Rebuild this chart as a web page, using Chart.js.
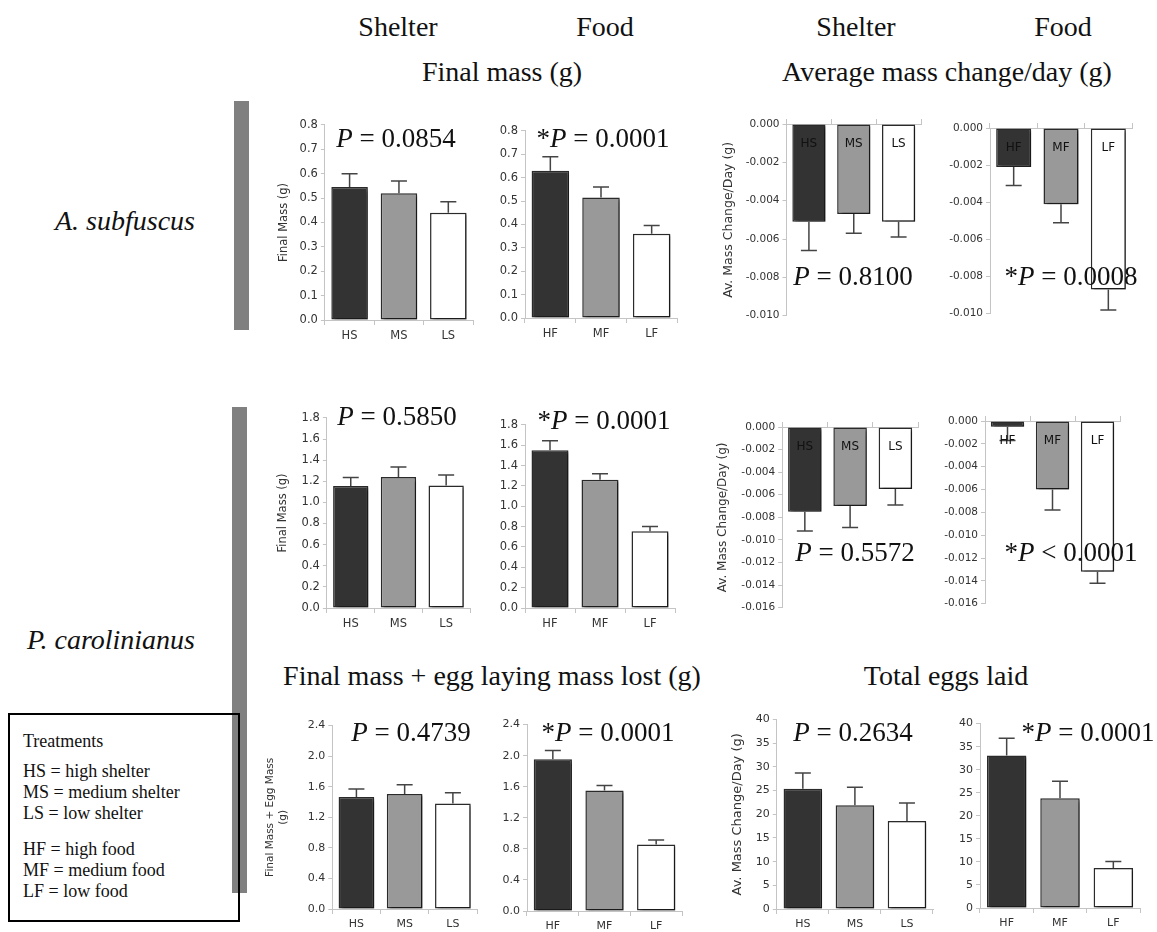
<!DOCTYPE html>
<html>
<head>
<meta charset="utf-8">
<script src="https://cdn.jsdelivr.net/npm/chart.js@4.4.1/dist/chart.umd.min.js"></script>
<style>
  body { margin: 0; background: #fff; width: 1157px; height: 932px; position: relative; overflow: hidden;
         font-family: "Liberation Serif", "Times New Roman", serif; color: #111; }
  .t { position: absolute; transform: translate(-50%, -50%); white-space: nowrap; }
  .hd { font-size: 28px; }
  .sp { font-size: 28px; font-style: italic; }
  .pv { font-size: 27px; }
  .bar { position: absolute; background: #808080; }
  .legend { position: absolute; left: 8px; top: 713px; width: 228px; height: 205px; border: 2px solid #000;
            font-size: 18px; line-height: 21px; }
  canvas { position: absolute; }
</style>
</head>
<body>

<div class="t hd" style="left:398px;top:27px">Shelter</div>
<div class="t hd" style="left:605px;top:27px">Food</div>
<div class="t hd" style="left:856px;top:27px">Shelter</div>
<div class="t hd" style="left:1063px;top:27px">Food</div>
<div class="t hd" style="left:502px;top:72px">Final mass (g)</div>
<div class="t hd" style="left:947px;top:72px">Average mass change/day (g)</div>
<div class="t hd" style="left:492px;top:676px">Final mass + egg laying mass lost (g)</div>
<div class="t hd" style="left:946px;top:676px">Total eggs laid</div>

<div class="t sp" style="left:125px;top:221px">A. subfuscus</div>
<div class="t sp" style="left:111px;top:640px">P. carolinianus</div>

<div class="bar" style="left:234px;top:101px;width:15px;height:229px"></div>
<div class="bar" style="left:232px;top:407px;width:15px;height:486px"></div>

<div class="legend">
  <div style="position:absolute;left:13px;top:16px">Treatments</div>
  <div style="position:absolute;left:13px;top:46px">HS = high shelter<br>MS = medium shelter<br>LS = low shelter</div>
  <div style="position:absolute;left:13px;top:124px">HF = high food<br>MF = medium food<br>LF = low food</div>
</div>

<div id="charts"></div>

<script>
// categories
const shelterLabels = ['HS', 'MS', 'LS'];
const foodLabels = ['HF', 'MF', 'LF'];

// A. subfuscus - final mass (g)
const aMassShelter = [0.545, 0.52, 0.44];
const aMassShelterSE = [0.055, 0.05, 0.045];
const aMassFood = [0.63, 0.515, 0.36];
const aMassFoodSE = [0.06, 0.045, 0.035];

// A. subfuscus - average mass change/day (g)
const aChangeShelter = [-0.0051, -0.0047, -0.0051];
const aChangeShelterSE = [0.0015, 0.0010, 0.0008];
const aChangeFood = [-0.0021, -0.0041, -0.0087];
const aChangeFoodSE = [0.0010, 0.0010, 0.0011];

// P. carolinianus - final mass (g)
const pMassShelter = [1.155, 1.24, 1.16];
const pMassShelterSE = [0.08, 0.095, 0.10];
const pMassFood = [1.55, 1.26, 0.755];
const pMassFoodSE = [0.095, 0.06, 0.045];

// P. carolinianus - average mass change/day (g)
const pChangeShelter = [-0.0075, -0.0070, -0.0055];
const pChangeShelterSE = [0.0017, 0.0019, 0.0014];
const pChangeFood = [-0.0005, -0.0060, -0.0132];
const pChangeFoodSE = [0.0012, 0.0018, 0.0010];

// P. carolinianus - final mass + egg mass (g)
const pEggMassShelter = [1.465, 1.505, 1.38];
const pEggMassShelterSE = [0.105, 0.12, 0.14];
const pEggMassFood = [1.955, 1.55, 0.855];
const pEggMassFoodSE = [0.11, 0.065, 0.06];

// P. carolinianus - total eggs laid
const pEggsShelter = [25.4, 21.9, 18.6];
const pEggsShelterSE = [3.3, 3.8, 3.8];
const pEggsFood = [33.1, 23.8, 8.7];
const pEggsFoodSE = [3.7, 3.7, 1.4];

// P values, one per panel
const pStars = ['', '*', '', '*', '', '*', '', '*', '', '*', '', '*'];
const pSigns = ['=', '=', '=', '=', '=', '=', '=', '<', '=', '=', '=', '='];
const pNumbers = ['0.0854', '0.0001', '0.8100', '0.0008', '0.5850', '0.0001',
                  '0.5572', '0.0001', '0.4739', '0.0001', '0.2634', '0.0001'];

const barColors = ['#333333', '#999999', '#ffffff'];
const axisGrey = '#c4c4c4';

// where each panel sits on the page
const panels = [
  { labels: shelterLabels, data: aMassShelter, se: aMassShelterSE, min: 0, max: 0.8, step: 0.1, dec: 1, fs: 11.5,
    title: 'Final Mass (g)', tSize: 11.5, ax: 325, top: 123, bottom: 320, right: 473, titleX: 284, pX: 396, pY: 138 },
  { labels: foodLabels, data: aMassFood, se: aMassFoodSE, min: 0, max: 0.8, step: 0.1, dec: 1, fs: 11.5,
    ax: 525, top: 129, bottom: 318, right: 677, pX: 603, pY: 138 },
  { labels: shelterLabels, data: aChangeShelter, se: aChangeShelterSE, min: -0.010, max: 0, step: 0.002, dec: 3, fs: 10.5,
    title: 'Av. Mass Change/Day (g)', tSize: 12.5, ax: 786, top: 124, bottom: 317, right: 920, titleX: 728, pX: 853, pY: 276 },
  { labels: foodLabels, data: aChangeFood, se: aChangeFoodSE, min: -0.010, max: 0, step: 0.002, dec: 3, fs: 10.5,
    ax: 990, top: 128, bottom: 315, right: 1132, pX: 1071, pY: 276 },
  { labels: shelterLabels, data: pMassShelter, se: pMassShelterSE, min: 0, max: 1.8, step: 0.2, dec: 1, fs: 11.5,
    title: 'Final Mass (g)', tSize: 11.5, ax: 327, top: 416, bottom: 608, right: 470, titleX: 283, pX: 397, pY: 416 },
  { labels: foodLabels, data: pMassFood, se: pMassFoodSE, min: 0, max: 1.8, step: 0.2, dec: 1, fs: 11.5,
    ax: 525, top: 423, bottom: 608, right: 675, pX: 604, pY: 420 },
  { labels: shelterLabels, data: pChangeShelter, se: pChangeShelterSE, min: -0.016, max: 0, step: 0.002, dec: 3, fs: 10.5,
    title: 'Av. Mass Change/Day (g)', tSize: 12, ax: 782, top: 427, bottom: 609, right: 918, titleX: 723, pX: 855, pY: 552 },
  { labels: foodLabels, data: pChangeFood, se: pChangeFoodSE, min: -0.016, max: 0, step: 0.002, dec: 3, fs: 10.5,
    ax: 985, top: 421, bottom: 605, right: 1120, pX: 1071, pY: 552 },
  { labels: shelterLabels, data: pEggMassShelter, se: pEggMassShelterSE, min: 0, max: 2.4, step: 0.4, dec: 1, fs: 11,
    title: ['Final Mass + Egg Mass', '(g)'], tSize: 10.5, ax: 332, top: 724, bottom: 909, right: 477, titleX: 270, pX: 411, pY: 732 },
  { labels: foodLabels, data: pEggMassFood, se: pEggMassFoodSE, min: 0, max: 2.4, step: 0.4, dec: 1, fs: 11,
    ax: 527, top: 723, bottom: 911, right: 682, pX: 608, pY: 732 },
  { labels: shelterLabels, data: pEggsShelter, se: pEggsShelterSE, min: 0, max: 40, step: 5, dec: 0, fs: 11,
    title: 'Av. Mass Change/Day (g)', tSize: 13, ax: 777, top: 718, bottom: 909, right: 933, titleX: 738, pX: 853, pY: 732 },
  { labels: foodLabels, data: pEggsFood, se: pEggsFoodSE, min: 0, max: 40, step: 5, dec: 0, fs: 11,
    ax: 980, top: 722, bottom: 908, right: 1140, pX: 1088, pY: 732 }
];

// drop shadow under the bars
const shadowPlugin = {
  id: 'barShadow',
  beforeDatasetsDraw(chart) {
    const ctx = chart.ctx;
    ctx.save();
    ctx.shadowColor = 'rgba(0,0,0,0.4)';
    ctx.shadowBlur = 2;
    ctx.shadowOffsetX = 3;
    ctx.shadowOffsetY = 2;
  },
  afterDatasetsDraw(chart) {
    chart.ctx.restore();
  }
};

// one-sided error bars with a cap
const errorPlugin = {
  id: 'errorBars',
  afterDatasetsDraw(chart) {
    const ctx = chart.ctx;
    const yScale = chart.scales.y;
    chart.data.datasets.forEach((ds, di) => {
      const meta = chart.getDatasetMeta(di);
      meta.data.forEach((bar, i) => {
        const v = ds.data[i];
        const end = v < 0 ? v - ds.errors[i] : v + ds.errors[i];
        const yEnd = yScale.getPixelForValue(end);
        ctx.save();
        ctx.strokeStyle = '#444';
        ctx.lineWidth = 1.5;
        ctx.beginPath();
        ctx.moveTo(bar.x, bar.y);
        ctx.lineTo(bar.x, yEnd);
        ctx.moveTo(bar.x - 8, yEnd);
        ctx.lineTo(bar.x + 8, yEnd);
        ctx.stroke();
        ctx.restore();
      });
    });
  }
};

// category names written inside the hanging bars
const innerLabelPlugin = {
  id: 'innerLabels',
  afterDatasetsDraw(chart) {
    if (!chart.options.plugins.innerLabels.show) return;
    const ctx = chart.ctx;
    const meta = chart.getDatasetMeta(0);
    ctx.save();
    ctx.font = '12px "DejaVu Sans"';
    ctx.fillStyle = '#111';
    ctx.textAlign = 'center';
    ctx.textBaseline = 'middle';
    meta.data.forEach((bar, i) => {
      ctx.fillText(chart.data.labels[i], bar.x, chart.chartArea.top + 20);
    });
    ctx.restore();
  }
};

const holder = document.getElementById('charts');

panels.forEach((p, idx) => {
  const neg = p.max <= 0;
  const tickFont = { family: 'DejaVu Sans', size: p.fs };
  const yW = p.title ? (p.ax - p.titleX + p.tSize * 0.6) : 54;
  const xH = neg ? 5 : 25;
  const padTop = 8, padBottom = neg ? 8 : 0, padRight = 4;
  const width = Math.round(yW + (p.right - p.ax) + padRight);
  const height = padTop + (neg ? xH : 0) + (p.bottom - p.top) + (neg ? padBottom : xH);
  const canvas = document.createElement('canvas');
  canvas.width = width;
  canvas.height = height;
  canvas.style.left = (p.ax - yW) + 'px';
  canvas.style.top = (p.top - padTop - (neg ? xH : 0)) + 'px';
  holder.appendChild(canvas);

  new Chart(canvas.getContext('2d'), {
    type: 'bar',
    data: {
      labels: p.labels,
      datasets: [{
        data: p.data,
        errors: p.se,
        backgroundColor: barColors,
        borderColor: '#2a2a2a',
        borderWidth: 1.5,
        borderSkipped: false,
        categoryPercentage: 1,
        barPercentage: 0.74
      }]
    },
    options: {
      responsive: false,
      animation: false,
      devicePixelRatio: 1,
      layout: { padding: { top: padTop, bottom: padBottom, left: 0, right: padRight } },
      plugins: {
        legend: { display: false },
        tooltip: { enabled: false },
        innerLabels: { show: neg }
      },
      scales: {
        x: {
          position: neg ? 'top' : 'bottom',
          offset: true,
          grid: { display: true, offset: true, drawOnChartArea: false, drawTicks: true, tickLength: 5, color: axisGrey },
          border: { display: true, color: axisGrey, width: 1 },
          ticks: { display: !neg, font: tickFont, color: '#333', padding: 4 },
          afterFit: s => { s.height = xH; }
        },
        y: {
          min: p.min,
          max: p.max,
          grid: { display: true, drawOnChartArea: false, drawTicks: true, tickLength: 4, color: axisGrey },
          border: { display: true, color: axisGrey, width: 1 },
          ticks: {
            stepSize: p.step,
            font: tickFont,
            color: '#333',
            padding: 3,
            callback: v => Number(v).toFixed(p.dec)
          },
          title: {
            display: !!p.title,
            text: p.title || '',
            font: { family: 'DejaVu Sans', size: p.tSize || 11 },
            color: '#333',
            padding: 0
          },
          afterFit: s => { s.width = yW; }
        }
      }
    },
    plugins: [shadowPlugin, errorPlugin, innerLabelPlugin]
  });

  // P value text
  const pv = document.createElement('div');
  pv.className = 't pv';
  pv.style.left = p.pX + 'px';
  pv.style.top = p.pY + 'px';
  pv.innerHTML = pStars[idx] + '<i>P</i> ' + pSigns[idx] + ' ' + pNumbers[idx];
  document.body.appendChild(pv);
});
</script>
</body>
</html>
